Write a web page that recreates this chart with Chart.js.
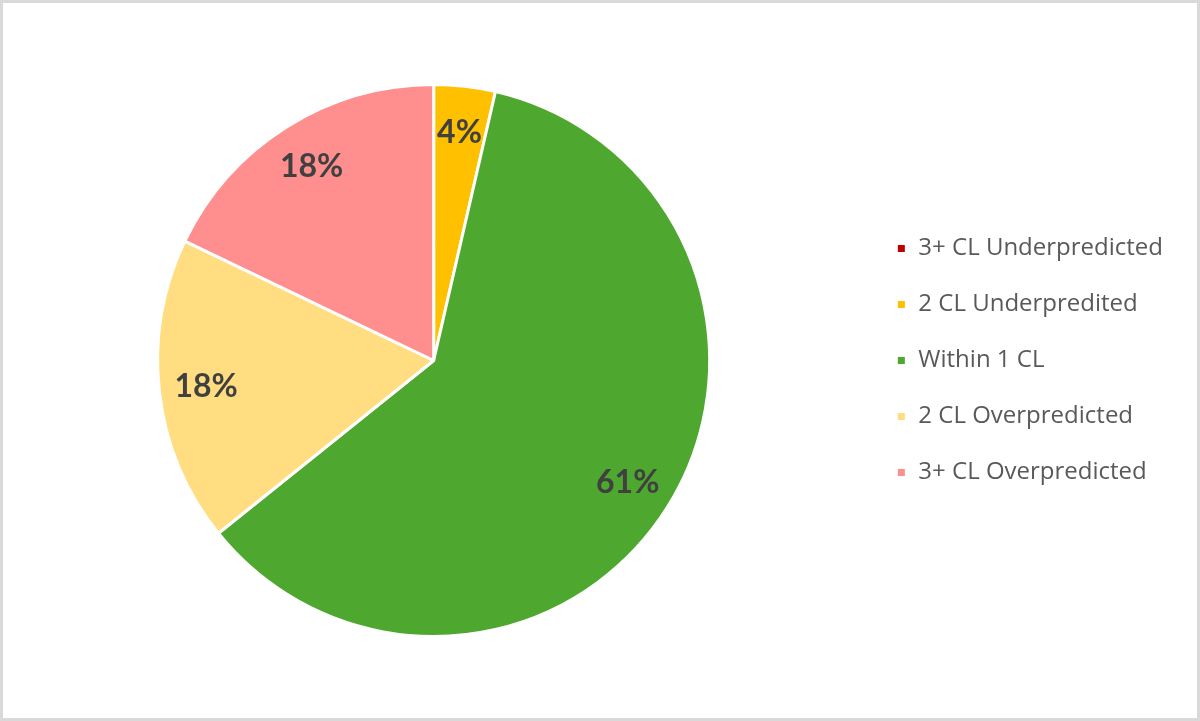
<!DOCTYPE html>
<html>
<head>
<meta charset="utf-8">
<script src="https://cdn.jsdelivr.net/npm/chart.js@4"></script>
<style>
  html, body { margin: 0; padding: 0; background: #fff; }
  #wrap {
    position: absolute; left: 0; top: 0;
    width: 1194px; height: 715px;
    border: 3px solid #d9d9d9;
  }
</style>
</head>
<body>
<div id="wrap"><canvas id="myChart" width="1194" height="715"></canvas></div>
<script>
const categories = ['3+ CL Underpredicted', '2 CL Underpredited', 'Within 1 CL', '2 CL Overpredicted', '3+ CL Overpredicted'];
const shares = [0, 3.6, 60.7, 17.9, 17.9];
const sliceColors = ['#c00000', '#ffc000', '#4ea72e', '#ffdd80', '#ff8f8f'];

const legendFont = '"Open Sans", sans-serif';
const labelFont = 'Lato, "Open Sans", sans-serif';

const sliceLabels = {
  id: 'sliceLabels',
  afterDatasetsDraw(chart) {
    const { ctx } = chart;
    const meta = chart.getDatasetMeta(0);
    ctx.save();
    ctx.font = `bold 32px ${labelFont}`;
    ctx.fillStyle = '#404040';
    ctx.textAlign = 'center';
    ctx.textBaseline = 'middle';
    meta.data.forEach((arc, i) => {
      const value = shares[i];
      if (!value) return;
      const mid = (arc.startAngle + arc.endAngle) / 2;
      const r = arc.outerRadius * 0.83;
      ctx.fillText(Math.round(value) + '%', arc.x + Math.cos(mid) * r, arc.y + Math.sin(mid) * r);
    });
    ctx.restore();
  },
};

new Chart(document.querySelector('#myChart'), {
  type: 'pie',
  data: {
    labels: categories,
    datasets: [
      {
        data: shares,
        backgroundColor: sliceColors,
        borderColor: '#ffffff',
        borderWidth: 3,
      },
    ],
  },
  options: {
    responsive: false,
    animation: false,
    layout: {
      padding: { top: 80, bottom: 80, left: 0, right: 24 },
    },
    plugins: {
      legend: {
        position: 'right',
        labels: {
          boxWidth: 10,
          boxHeight: 10,
          padding: 32,
          color: '#595959',
          font: { family: legendFont, size: 24 },
        },
      },
      tooltip: { enabled: false },
    },
  },
  plugins: [sliceLabels],
});
</script>
</body>
</html>
